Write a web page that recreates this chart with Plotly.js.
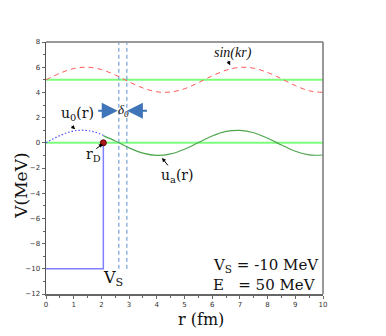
<!DOCTYPE html>
<html>
<head>
<meta charset="utf-8">
<script src="https://cdn.plot.ly/plotly-3.0.1.min.js"></script>
<style>
  body { margin: 0; background: #fff; }
  #plotly-div { width: 386px; height: 336px; }
</style>
</head>
<body>
<div id="plotly-div"></div>
<script>
// values

// sin(kr), shifted up to sit on E = 5
var rSin = [0, 0.5, 1, 1.5, 2, 2.5, 3, 3.5, 4, 4.5, 5, 5.5, 6, 6.5, 7, 7.5, 8, 8.5, 9, 9.5, 10];
var vSin = [5.00, 5.52, 5.89, 6.00, 5.81, 5.38, 4.84, 4.35, 4.05, 4.03, 4.29, 4.77, 5.31, 5.76, 5.99, 5.92, 5.58, 5.08, 4.54, 4.13, 4.00];

// outside solution u_a(r)
var rUa = [2.07, 2.5, 3, 3.5, 4, 4.5, 5, 5.5, 6, 6.5, 7, 7.5, 8, 8.5, 9, 9.5, 10];
var vUa = [0.57, 0.14, -0.40, -0.82, -1.00, -0.88, -0.51, 0.02, 0.54, 0.90, 0.99, 0.80, 0.36, -0.17, -0.67, -0.96, -0.97];

// inside solution u_0(r)
var rU0 = [0, 0.25, 0.5, 0.75, 1, 1.25, 1.5, 1.75, 2.07];
var vU0 = [0, 0.30, 0.57, 0.79, 0.94, 1.00, 0.97, 0.86, 0.60];

// square well
var rWell = [0, 2.07, 2.07];
var vWell = [-10, -10, 0];

// horizontal reference levels
var rLevel = [0, 10];
var levels = [5, 0];

// phase shift markers
var rShift = [2.63, 2.92];
var vShiftTop = 8;
var vShiftBottom = -10;

var rD = 2.07;

var serif = 'DejaVu Serif';
var italic = 'Liberation Serif';

var traces = [];

levels.forEach(function (lv) {
  traces.push({
    x: rLevel, y: [lv, lv], type: 'scatter', mode: 'lines',
    line: {color: '#7dff7d', width: 2}, hoverinfo: 'skip'
  });
});

rShift.forEach(function (rs) {
  traces.push({
    x: [rs, rs], y: [vShiftBottom, vShiftTop], type: 'scatter', mode: 'lines',
    line: {color: '#5b8fd0', width: 1, dash: '4px,3px'}
  });
});

traces.push({
  x: rSin, y: vSin, type: 'scatter', mode: 'lines',
  line: {color: '#ff5a5a', width: 1, dash: '5px,4px', shape: 'spline'}
});

traces.push({
  x: rUa, y: vUa, type: 'scatter', mode: 'lines',
  line: {color: '#4fa64f', width: 1.2, shape: 'spline'}
});

traces.push({
  x: rU0, y: vU0, type: 'scatter', mode: 'lines',
  line: {color: '#4a4aff', width: 1.2, dash: '1.5px,2px', shape: 'spline'}
});

traces.push({
  x: rWell, y: vWell, type: 'scatter', mode: 'lines',
  line: {color: '#8080ff', width: 1.5}
});

traces.push({
  x: [rD], y: [0], type: 'scatter', mode: 'markers',
  marker: {size: 6, color: '#b01818', line: {color: '#5a0000', width: 1}}
});

var yArrow = 2.55;

var annotations = [
  // phase shift arrows
  {x: rShift[0] - 0.04, y: yArrow, ax: 1.83, ay: yArrow, axref: 'x', ayref: 'y',
   text: '', showarrow: true, arrowhead: 2, arrowsize: 1.6, arrowwidth: 2, arrowcolor: '#3f74b8'},
  {x: rShift[1], y: yArrow, ax: 3.70, ay: yArrow, axref: 'x', ayref: 'y',
   text: '', showarrow: true, arrowhead: 2, arrowsize: 1.6, arrowwidth: 2, arrowcolor: '#3f74b8'},
  {x: 2.78, y: yArrow, text: '<i>δ<sub>0</sub></i>', showarrow: false,
   font: {family: italic, size: 13, color: '#111'}},

  // labels with pointers
  {x: 6.65, y: 6.15, ax: -3, ay: -6, text: '', showarrow: true, arrowhead: 2, arrowsize: 0.8, arrowwidth: 1, arrowcolor: '#000'},
  {x: 6.76, y: 7.15, text: '<i>sin(kr)</i>', showarrow: false, font: {family: italic, size: 14, color: '#111'}},

  {x: 1.05, y: 1.07, ax: -5, ay: -5, text: '', showarrow: true, arrowhead: 2, arrowsize: 0.8, arrowwidth: 1, arrowcolor: '#000'},
  {x: 1.12, y: 2.30, text: 'u<sub>0</sub>(r)', showarrow: false, font: {family: serif, size: 14, color: '#111'}},

  {x: 2.05, y: -0.08, ax: -8, ay: 6, text: '', showarrow: true, arrowhead: 2, arrowsize: 0.8, arrowwidth: 1, arrowcolor: '#000'},
  {x: 1.70, y: -0.98, text: 'r<sub>D</sub>', showarrow: false, font: {family: serif, size: 14, color: '#111'}},

  {x: 4.19, y: -1.20, ax: 7, ay: 9, text: '', showarrow: true, arrowhead: 2, arrowsize: 0.8, arrowwidth: 1, arrowcolor: '#000'},
  {x: 4.76, y: -2.60, text: 'u<sub>a</sub>(r)', showarrow: false, font: {family: serif, size: 14, color: '#111'}},

  {x: 2.43, y: -10.75, text: 'V<sub>S</sub>', showarrow: false, font: {family: serif, size: 16, color: '#111'}},

  {x: 0.597, y: 0.112, xref: 'paper', yref: 'paper', xanchor: 'left', yanchor: 'middle',
   text: 'V<sub>S</sub> = -10 MeV', showarrow: false, font: {family: serif, size: 15, color: '#111'}},
  {x: 0.597, y: 0.036, xref: 'paper', yref: 'paper', xanchor: 'left', yanchor: 'middle',
   text: 'E   = 50 MeV', showarrow: false, font: {family: serif, size: 15, color: '#111'}},

  // axis titles, set off-centre as in the original
  {x: 0.56, y: -0.10, xref: 'paper', yref: 'paper', xanchor: 'center', yanchor: 'middle',
   text: 'r (fm)', showarrow: false, font: {family: serif, size: 16, color: '#111'}},
  {x: -0.09, y: 0.43, xref: 'paper', yref: 'paper', xanchor: 'center', yanchor: 'middle', textangle: -90,
   text: 'V(MeV)', showarrow: false, font: {family: serif, size: 17, color: '#111'}}
];

// top and right frame lines in gray
var shapes = [
  {type: 'line', xref: 'paper', yref: 'paper', x0: 0, x1: 1, y0: 1, y1: 1, line: {color: '#999', width: 2}},
  {type: 'line', xref: 'paper', yref: 'paper', x0: 1, x1: 1, y0: 0, y1: 1, line: {color: '#777', width: 1.5}}
];

var tickFont = {family: 'DejaVu Sans', size: 7, color: '#333'};

var layout = {
  width: 386, height: 336,
  margin: {l: 46, r: 63, t: 42, b: 42},
  paper_bgcolor: '#fff', plot_bgcolor: '#fff',
  showlegend: false,
  hovermode: false,
  xaxis: {
    range: [0, 10], tick0: 0, dtick: 1, showgrid: false, zeroline: false,
    showline: true, linecolor: '#666', linewidth: 1.5,
    ticks: 'outside', ticklen: 3, tickcolor: '#666', tickfont: tickFont,
    minor: {dtick: 0.5, ticks: 'outside', ticklen: 2, tickcolor: '#666'}
  },
  yaxis: {
    range: [-12, 8], tick0: -12, dtick: 2, showgrid: false, zeroline: false,
    showline: true, linecolor: '#555', linewidth: 1.5,
    ticks: 'outside', ticklen: 3, tickcolor: '#666', tickfont: tickFont,
    minor: {dtick: 1, ticks: 'outside', ticklen: 2, tickcolor: '#666'}
  },
  annotations: annotations,
  shapes: shapes
};

Plotly.newPlot('plotly-div', traces, layout, {displayModeBar: false, staticPlot: true});
</script>
</body>
</html>
